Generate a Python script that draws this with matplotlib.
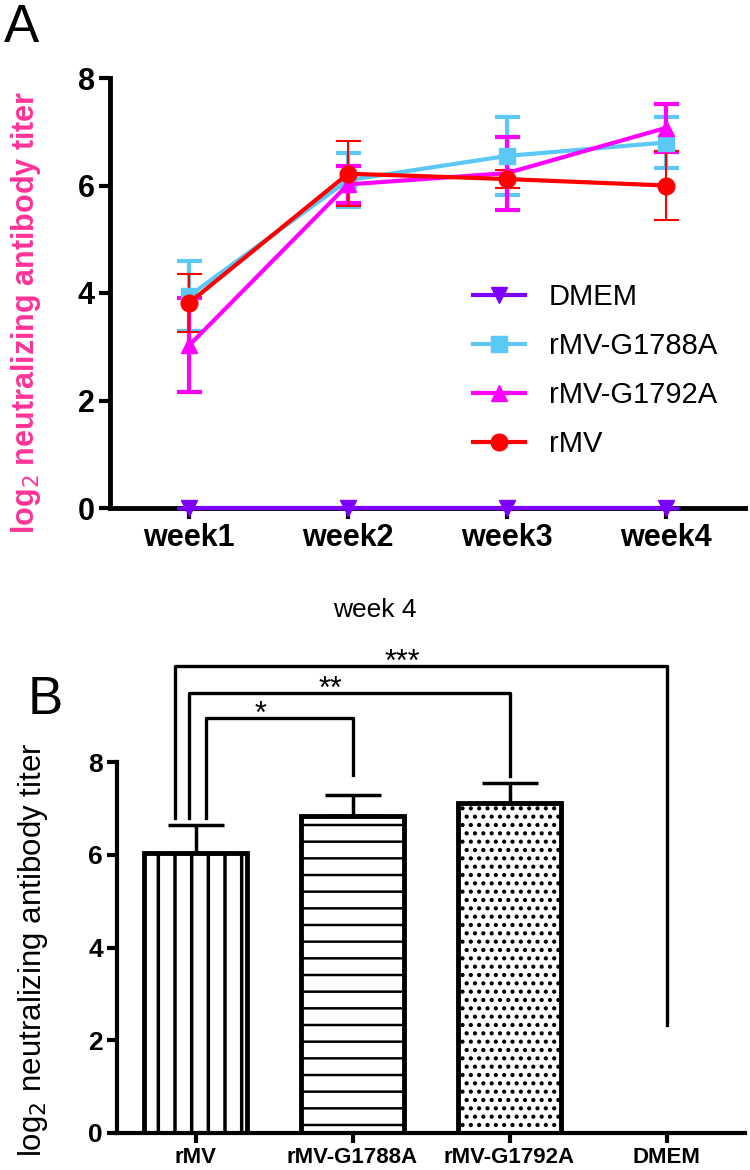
import matplotlib
matplotlib.use("Agg")
import matplotlib.pyplot as plt
from matplotlib.lines import Line2D
import numpy as np

plt.rcParams['font.family'] = ['Liberation Sans', 'DejaVu Sans']

# --- Panel A data: titer over time ---
weeks = ['week1', 'week2', 'week3', 'week4']
series = ['DMEM', 'rMV-G1788A', 'rMV-G1792A', 'rMV']
dmem = [0, 0, 0, 0]
dmem_err = [0, 0, 0, 0]
g1788 = [3.95, 6.1, 6.55, 6.8]
g1788_err = [0.65, 0.5, 0.72, 0.48]
g1792 = [3.03, 6.02, 6.23, 7.07]
g1792_err = [0.88, 0.35, 0.68, 0.45]
rmv = [3.82, 6.22, 6.12, 6.0]
rmv_err = [0.54, 0.6, 0.17, 0.64]

# --- Panel B data: week 4 ---
groups = ['rMV', 'rMV-G1788A', 'rMV-G1792A', 'DMEM']
w4_mean = [6.03, 6.83, 7.11, 0]
w4_err = [0.62, 0.46, 0.43, 0]
hatches = ['|', '-', '..', '']

# significance: (left group, right group, bracket height, right leg bottom, label)
sig = [(0, 3, 10.06, 2.33, '***'),
       (0, 2, 9.48, 7.70, '**'),
       (0, 1, 8.94, 7.72, '*')]

fig = plt.figure(figsize=(7.5, 11.7), dpi=100)

# ---------------- Panel A ----------------
ax1 = fig.add_axes([110/750, 1-508/1170, 635/750, 430/1170])
x = np.arange(len(weeks))
styles = [
    (dmem, dmem_err, '#7B00FF', 'v', 11, 2.5),
    (g1788, g1788_err, '#5BC8F5', 's', 11, 3),
    (g1792, g1792_err, '#FF00FF', '^', 11, 3),
    (rmv, rmv_err, '#FF0000', 'o', 12, 1.5),
]
handles = []
for (vals, err, col, mk, ms, elw), name in zip(styles, series):
    ax1.errorbar(x, vals, yerr=err, color=col, marker=mk, markersize=ms,
                 lw=3, elinewidth=elw, capsize=9, capthick=elw,
                 clip_on=False, zorder=3)
    handles.append(Line2D([], [], color=col, marker=mk, markersize=ms, lw=3, label=name))

ax1.set_xlim(-0.5, 3.5)
ax1.set_ylim(0, 8)
ax1.set_xticks(x)
ax1.set_xticklabels(weeks, fontsize=22, fontweight='bold')
ax1.set_yticks([0, 2, 4, 6, 8])
ax1.set_yticklabels(['0', '2', '4', '6', '8'], fontsize=22, fontweight='bold')
for s in ['top', 'right']:
    ax1.spines[s].set_visible(False)
for s in ['left', 'bottom']:
    ax1.spines[s].set_linewidth(3.5)
ax1.tick_params(width=3, length=8, pad=3)
ax1.set_ylabel('log$_2$ neutralizing antibody titer', fontsize=22,
               fontweight='bold', color='#FF3399')
ax1.yaxis.set_label_coords(-0.105, 0.456)

ax1.legend(handles=handles, loc='upper left', bbox_to_anchor=(0.53, 0.584),
           frameon=False, fontsize=21, handlelength=1.8, labelspacing=0.72,
           handletextpad=0.8)

fig.text(0.028, 0.976, 'A', fontsize=38, ha='center', va='center')

# ---------------- Panel B ----------------
ax2 = fig.add_axes([117/750, 1-1133/1170, 628/750, 371/1170])
xb = np.arange(len(groups))
bars = ax2.bar(xb, w4_mean, width=0.66, color='white', edgecolor='black',
               linewidth=3.5, zorder=2)
for b, h in zip(bars, hatches):
    b.set_hatch(h)
    if hasattr(b, 'set_hatch_linewidth'):
        b.set_hatch_linewidth(2.5 if h == '|' else 1.8)
ax2.errorbar(xb[:3], w4_mean[:3], yerr=[np.zeros(3), w4_err[:3]], fmt='none',
             ecolor='black', elinewidth=2.5, capsize=20, capthick=2.5,
             clip_on=False, zorder=3)

ax2.set_xlim(-0.5, 3.5)
ax2.set_ylim(0, 8)
ax2.set_xticks(xb)
ax2.set_xticklabels(groups, fontsize=16, fontweight='bold')
ax2.set_yticks([0, 2, 4, 6, 8])
ax2.set_yticklabels(['0', '2', '4', '6', '8'], fontsize=19, fontweight='bold')
for s in ['top', 'right']:
    ax2.spines[s].set_visible(False)
for s in ['left', 'bottom']:
    ax2.spines[s].set_linewidth(3)
ax2.tick_params(width=3, length=7, pad=3)
ax2.set_ylabel('log$_2$ neutralizing antibody titer', fontsize=22.5)
ax2.yaxis.set_label_coords(-0.107, 0.495)

leg_x = [-0.13, -0.04, 0.07]
left_bottom = 6.79
for (i, j, top, rb, lab), lx in zip(sig, leg_x):
    ax2.plot([lx, lx, xb[j], xb[j]], [left_bottom, top, top, rb], color='black',
             lw=2.4, clip_on=False, zorder=4)
    ax2.text((lx + xb[j]) / 2 - 0.12, top - 0.25, lab, ha='center', va='bottom',
             fontsize=22, clip_on=False)

fig.text(0.5, 1-610/1170, 'week 4', fontsize=19, ha='center', va='center')
fig.text(0.06, 1-700/1170, 'B', fontsize=38, ha='center', va='center')

fig.savefig('out.png', dpi=100)
